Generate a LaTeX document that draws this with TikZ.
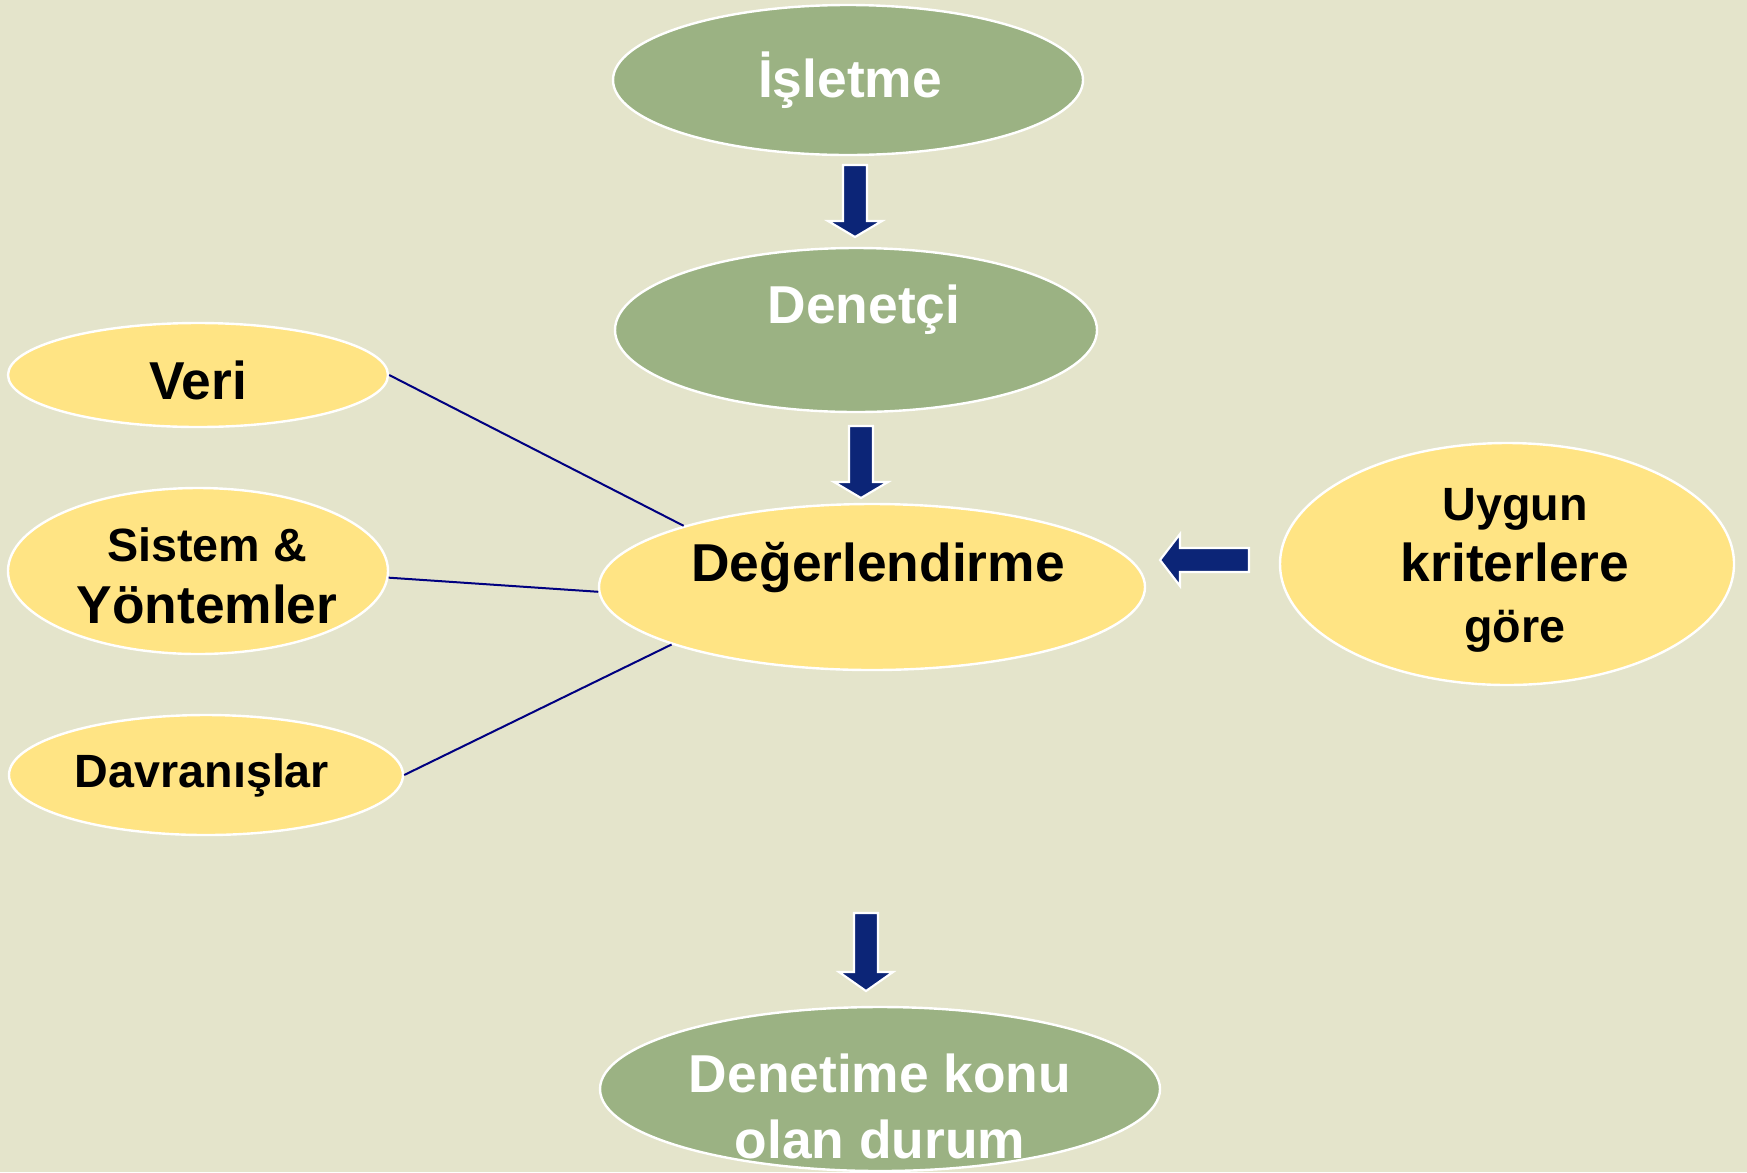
\documentclass[tikz,border=0pt]{standalone}
\usepackage{fontspec}
\usepackage{xcolor}
\usepackage{tikz}
\usetikzlibrary{shapes.geometric}
\setmainfont{Liberation Sans}
\definecolor{bgcream}{RGB}{228,228,203}
\definecolor{ovalgreen}{RGB}{155,178,131}
\definecolor{ovalyellow}{RGB}{255,228,132}
\definecolor{navy}{RGB}{12,37,119}
\definecolor{linkblue}{RGB}{0,0,128}

\tikzset{
  oval/.style={ellipse, draw=white, line width=1.8pt, inner sep=0pt},
  greenoval/.style={oval, fill=ovalgreen},
  yellowoval/.style={oval, fill=ovalyellow},
  whitetxt/.style={anchor=base, inner sep=0pt, text=white, align=center, font=\bfseries\fontsize{40}{49.5}\selectfont},
  blacktxt/.style={anchor=base, inner sep=0pt, text=black, align=center, font=\bfseries\fontsize{40}{46.5}\selectfont},
  blockarrow/.style={fill=navy, draw=white, line width=1.6pt},
  link/.style={draw=linkblue, line width=1.5pt}
}

\begin{document}
\begin{tikzpicture}[x=0.75pt,y=0.75pt,yscale=-1,xscale=1]
\useasboundingbox (0,0) rectangle (1747,1172);
\fill[bgcream] (0,0) rectangle (1747,1172);

%Shape: Ellipse [isletme]
\node[greenoval, minimum width=352.5pt, minimum height=112.5pt] (isletme) at (848,80) {};
%Shape: Ellipse [denetci]
\node[greenoval, minimum width=361.5pt, minimum height=123pt] (denetci) at (856,330) {};
%Shape: Ellipse [deger]
\node[yellowoval, minimum width=409.5pt, minimum height=124.5pt] (deger) at (872,587) {};
%Shape: Ellipse [uygun]
\node[yellowoval, minimum width=340.5pt, minimum height=181.5pt] (uygun) at (1507,564) {};
%Shape: Ellipse [veri]
\node[yellowoval, minimum width=285pt, minimum height=78pt] (veri) at (198,375) {};
%Shape: Ellipse [sistem]
\node[yellowoval, minimum width=285pt, minimum height=124.5pt] (sistem) at (198,571) {};
%Shape: Ellipse [davranis]
\node[yellowoval, minimum width=295.5pt, minimum height=90pt] (davranis) at (206,775) {};
%Shape: Ellipse [denetime]
\node[greenoval, minimum width=420pt, minimum height=123pt] (denetime) at (880,1089) {};

%Straight Lines
\draw[link] (veri.east) -- (deger.162.6);
\draw[link] (sistem.-2.4) -- (deger.181.5);
\draw[link] (davranis.east) -- (deger.196.8);

%Shape: Down Arrow
\draw[blockarrow] (843,165) -- (867,165) -- (867,221) -- (882,221) -- (855,237) -- (828,221) -- (843,221) -- cycle;
%Shape: Down Arrow
\draw[blockarrow] (849,426) -- (873,426) -- (873,482) -- (888,482) -- (861,498) -- (834,482) -- (849,482) -- cycle;
%Shape: Down Arrow
\draw[blockarrow] (854,913) -- (878,913) -- (878,972) -- (893,972) -- (866,991) -- (839,972) -- (854,972) -- cycle;
%Shape: Left Arrow
\draw[blockarrow] (1249,548) -- (1249,572) -- (1180,572) -- (1180,586) -- (1160,560) -- (1180,534) -- (1180,548) -- cycle;

% Text Node
\node[whitetxt] (isletmetxt) at (850,97) {İşletme};
% Text Node
\node[whitetxt] (denetcitxt) at (864,323) {Denetçi};
% Text Node
\node[blacktxt] (degertxt) at (878,581) {Değerlendirme};
% Text Node
\node[blacktxt] (veritxt) at (198,399) {Veri};
% Text Node
\node[blacktxt] (sistemtxt) at (207,623) {{\fontsize{35}{42}\selectfont Sistem \&}\\Yöntemler};
% Text Node
\node[blacktxt, font=\bfseries\fontsize{35}{42}\selectfont] (davranistxt) at (202,787) {Davranışlar};
% Text Node
\node[blacktxt, font=\bfseries\fontsize{40}{45.5}\selectfont] (uyguntxt) at (1515,642) {{\fontsize{35}{42}\selectfont Uygun}\\kriterlere\\{\fontsize{35}{42}\selectfont göre}};
% Text Node
\node[whitetxt] (denetimetxt) at (880,1158) {Denetime konu\\olan durum};

\end{tikzpicture}
\end{document}
